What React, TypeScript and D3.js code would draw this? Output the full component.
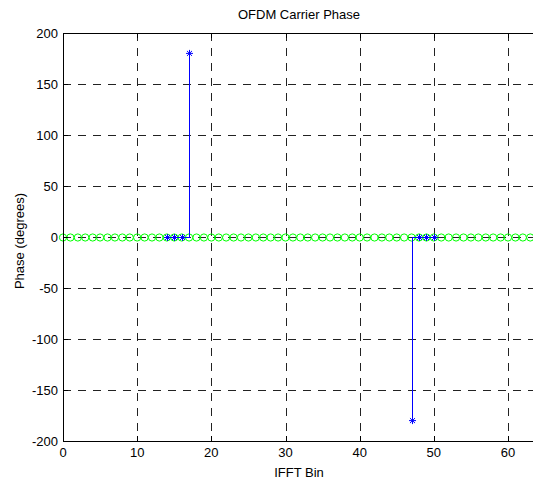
import React from "react";
import * as d3 from "d3";

// IFFT bins 0..63, every carrier phase shown as a green stem at 0
const bins: number[] = d3.range(0, 64);
const zeroPhase: number[] = bins.map(() => 0);

// Active carriers (blue stems)
const activeBins: number[] = [14, 15, 16, 17, 47, 48, 49, 50];
const activePhase: number[] = [0, 0, 0, 180, -180, 0, 0, 0];

// Blue baseline segments joining the active carriers
const baselineStart: number[] = [14, 47];
const baselineEnd: number[] = [17, 50];

const xTicks: number[] = [0, 10, 20, 30, 40, 50, 60];
const yTicks: number[] = [-200, -150, -100, -50, 0, 50, 100, 150, 200];

const W = 533;
const H = 485;
const left = 63;
const top = 33;
const bottom = 441;
const pxPerBin = 7.4167;

const FONT = "'Liberation Sans', Arial, sans-serif";

function Star({ x, y }: { x: number; y: number }) {
  const r = 3.5;
  const d = r * 0.72;
  return (
    <g stroke="#0000ff" strokeWidth={1}>
      <line x1={x - r} y1={y} x2={x + r} y2={y} />
      <line x1={x} y1={y - r} x2={x} y2={y + r} />
      <line x1={x - d} y1={y - d} x2={x + d} y2={y + d} />
      <line x1={x - d} y1={y + d} x2={x + d} y2={y - d} />
    </g>
  );
}

export default function App() {
  const x = d3.scaleLinear().domain([0, 64]).range([left, left + 64 * pxPerBin]);
  const y = d3.scaleLinear().domain([-200, 200]).range([bottom, top]);
  const [x0, x1] = x.range();
  // snap 1px lines to pixel centres
  const sx = (v: number) => Math.round(x(v)) + 0.5;
  const sy = (v: number) => Math.round(y(v)) + 0.5;

  return (
    <svg
      width={W}
      height={H}
      style={{ position: "absolute", left: 0, top: 0, background: "#fff" }}
      fontFamily={FONT}
    >
      <rect x={0} y={0} width={W} height={H} fill="#fff" />

      {/* dashed grid */}
      <g stroke="#222" strokeWidth={1} strokeDasharray="8,7" shapeRendering="crispEdges">
        {xTicks.filter((t) => t > 0).map((t) => (
          <line key={"gx" + t} x1={sx(t)} x2={sx(t)} y1={top} y2={bottom} />
        ))}
        {yTicks.filter((t) => t > -200 && t < 200).map((t) => (
          <line key={"gy" + t} x1={x0} x2={x1} y1={sy(t)} y2={sy(t)} />
        ))}
      </g>

      {/* green zero-phase stems (circles) */}
      <g fill="none" stroke="#00ff00" strokeWidth={1}>
        {bins.map((b, i) => (
          <circle key={"c" + b} cx={x(b)} cy={sy(zeroPhase[i])} r={3.6} />
        ))}
      </g>

      {/* blue baseline segments */}
      <g stroke="#0000ff" strokeWidth={1} shapeRendering="crispEdges">
        {baselineStart.map((s, i) => (
          <line key={"bl" + i} x1={x(s)} x2={x(baselineEnd[i])} y1={sy(0)} y2={sy(0)} />
        ))}
      </g>

      {/* blue stems with star markers */}
      <g stroke="#0000ff" strokeWidth={1} shapeRendering="crispEdges">
        {activeBins.map((b, i) => (
          <line key={"s" + b} x1={sx(b)} x2={sx(b)} y1={sy(0)} y2={y(activePhase[i])} />
        ))}
      </g>
      {activeBins.map((b, i) => (
        <Star key={"m" + b} x={sx(b)} y={activePhase[i] === 0 ? sy(0) : y(activePhase[i])} />
      ))}

      {/* axes box */}
      <g stroke="#000" strokeWidth={1} fill="none" shapeRendering="crispEdges">
        <line x1={x0} x2={x1} y1={top + 0.5} y2={top + 0.5} />
        <line x1={x0} x2={x1} y1={bottom + 0.5} y2={bottom + 0.5} />
        <line x1={x0 + 0.5} x2={x0 + 0.5} y1={top} y2={bottom + 1} />
        <line x1={x1} x2={x1} y1={top} y2={bottom} />
      </g>

      {/* ticks */}
      <g stroke="#000" strokeWidth={1} shapeRendering="crispEdges">
        {xTicks.map((t) => (
          <g key={"tx" + t}>
            <line x1={sx(t)} x2={sx(t)} y1={bottom} y2={bottom - 5} />
            <line x1={sx(t)} x2={sx(t)} y1={top} y2={top + 5} />
          </g>
        ))}
        {yTicks.map((t) => (
          <line key={"ty" + t} x1={x0} x2={x0 + 5} y1={sy(t)} y2={sy(t)} />
        ))}
      </g>

      {/* tick labels */}
      <g fontSize={13} fill="#000">
        {xTicks.map((t) => (
          <text key={"lx" + t} x={x(t)} y={bottom + 16} textAnchor="middle">
            {t}
          </text>
        ))}
        {yTicks.map((t) => (
          <text key={"ly" + t} x={x0 - 5} y={y(t) + 4.5} textAnchor="end">
            {t}
          </text>
        ))}
      </g>

      {/* title and axis labels */}
      <text x={299} y={19} fontSize={13} textAnchor="middle" fill="#000">
        OFDM Carrier Phase
      </text>
      <text x={299} y={477} fontSize={13} textAnchor="middle" fill="#000">
        IFFT Bin
      </text>
      <text
        transform={`translate(24, ${(top + bottom) / 2 + 4}) rotate(-90)`}
        fontSize={13}
        textAnchor="middle"
        fill="#000"
      >
        Phase (degrees)
      </text>
    </svg>
  );
}
